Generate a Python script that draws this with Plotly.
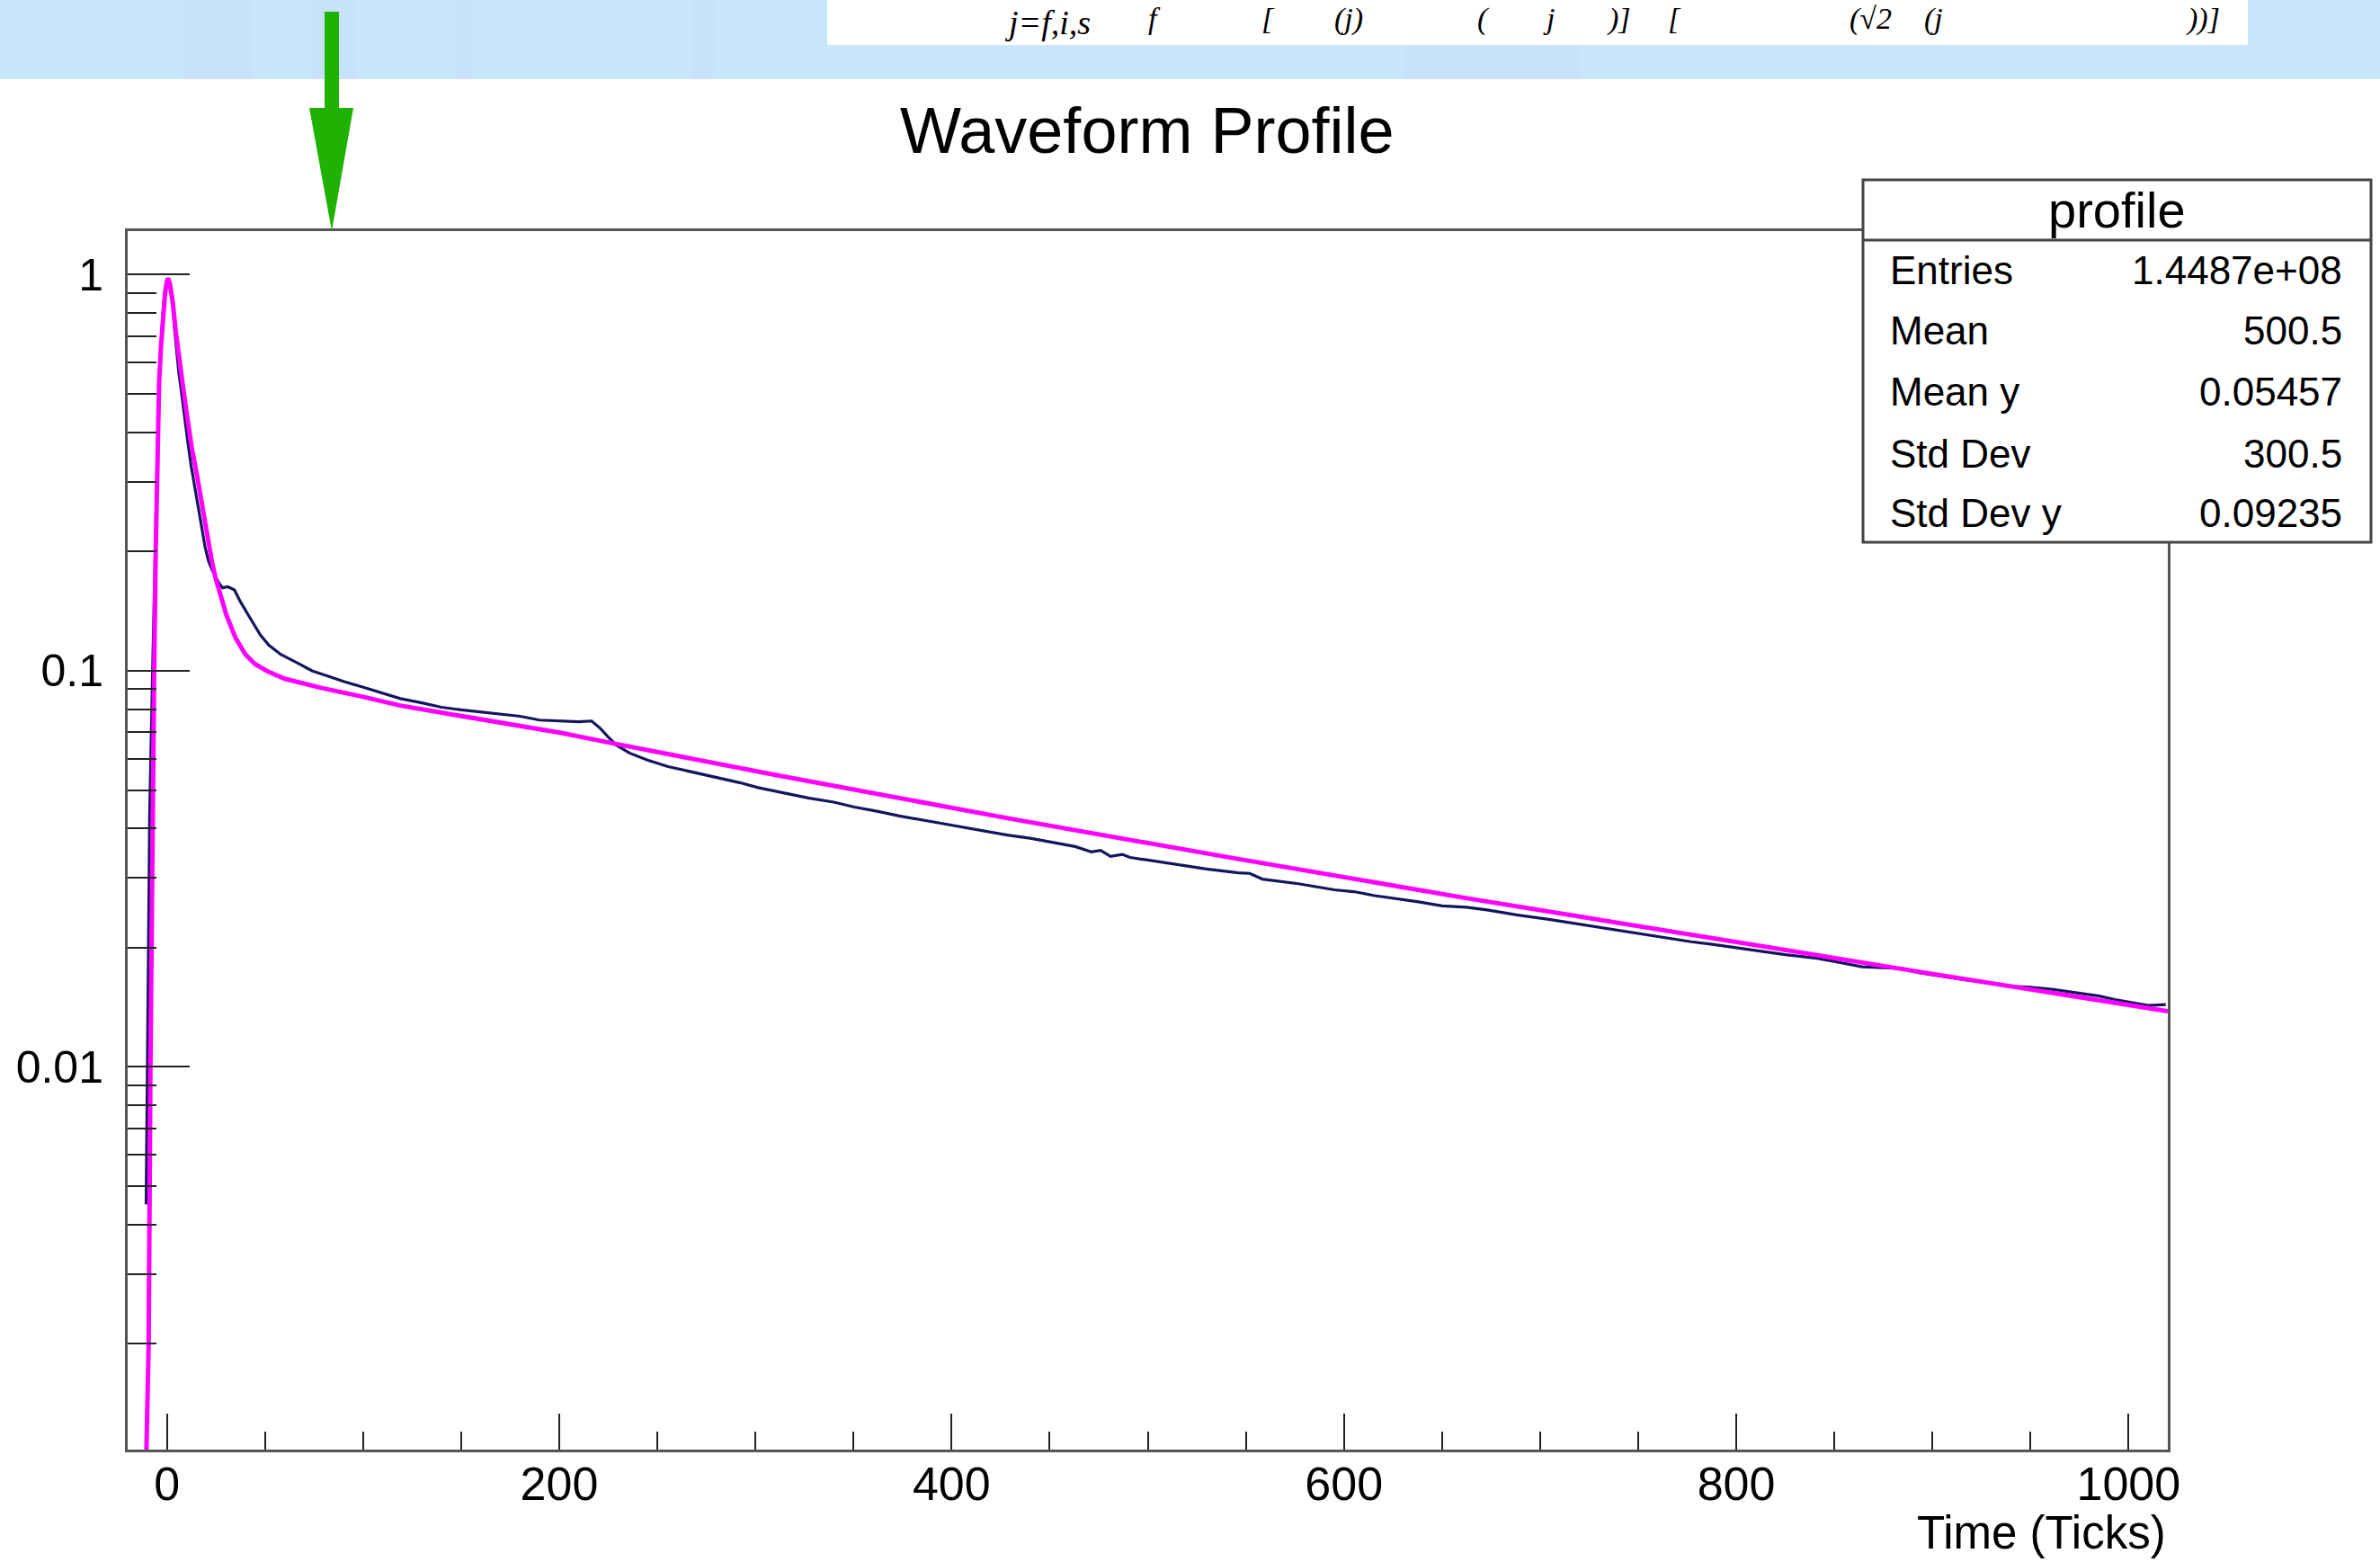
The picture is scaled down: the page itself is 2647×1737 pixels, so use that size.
import plotly.graph_objects as go

W, H = 2647, 1737

# ---------------- data ----------------
profile_x = [-10.6, -9.6, -8.8, -7.3, -5.5, -4.0, -2.0, -1.0, 0.0, 1.0, 2.0, 3.0, 4.0, 5.0, 6.0,
             6.8, 7.9, 9.3, 10.5, 12.3, 14.0, 15.0, 16.4, 18.0, 19.5, 21.1, 23.0, 25.2, 27.0,
             28.4, 31.0, 34.4, 37.6, 42, 47.7, 52, 58, 66, 74, 82.6, 90, 99, 110, 119, 130,
             140, 150, 160, 170.6, 180, 190, 201, 210, 216.5, 221, 225, 229, 235.8, 245,
             255.5, 268, 281.7, 292, 301.4, 315, 327.5, 340, 350.5, 362, 373.4, 390, 404,
             416, 428.4, 440, 454.4, 463, 471.2, 476, 481, 487, 491, 503, 515.6, 530, 546.2,
             552, 558.4, 576.8, 595.1, 605, 615, 627, 638, 650, 662.4, 673, 688, 703.7, 718,
             734.3, 750, 764.8, 777, 787.8, 800, 810.7, 825, 841.3, 853, 864.2, 875, 885.6,
             893, 905, 916, 928, 939, 950, 962, 973, 985, 993, 1000.3, 1010, 1019]
profile_y = [0.0045, 0.0158, 0.0437, 0.100, 0.25, 0.55, 0.80, 0.92, 0.97, 0.97, 0.90, 0.83, 0.72,
             0.63, 0.57, 0.533, 0.478, 0.427, 0.383, 0.330, 0.295, 0.275, 0.250, 0.225, 0.205,
             0.190, 0.180, 0.171, 0.165, 0.162, 0.163, 0.160, 0.149, 0.137, 0.123, 0.116,
             0.110, 0.105, 0.100, 0.0968, 0.0940, 0.0912, 0.0880, 0.0851, 0.0830, 0.0809,
             0.0797, 0.0787, 0.0778, 0.0768, 0.0751, 0.0746, 0.0744, 0.0747, 0.0715, 0.0680,
             0.0650, 0.0620, 0.0595, 0.0573, 0.0555, 0.0535, 0.0522, 0.0507, 0.0492, 0.0477,
             0.0466, 0.0453, 0.0442, 0.0430, 0.0416, 0.0404, 0.0394, 0.0385, 0.0378, 0.0367,
             0.0360, 0.0349, 0.0352, 0.0340, 0.0344, 0.0338, 0.0331, 0.0324, 0.0316, 0.0309,
             0.0308, 0.0298, 0.0290, 0.0280, 0.0277, 0.0271, 0.0266, 0.0261, 0.0255, 0.0253,
             0.0249, 0.0242, 0.0236, 0.0230, 0.0224, 0.0218, 0.0212, 0.0207, 0.0204, 0.0200,
             0.0197, 0.0192, 0.0188, 0.0183, 0.0179, 0.0178, 0.0177, 0.0173, 0.0169, 0.0166,
             0.0163, 0.0160, 0.0159, 0.01568, 0.0154, 0.0151, 0.0148, 0.0146, 0.0143, 0.01437]

fit_x = [-11.0, -10.4, -9.3, -8.4, -7.5, -6.5, -5.7, -5.0, -4.0, -3.0, -2.0, -1.0, 0.0, 0.6,
         1.5, 3.0, 4.5, 6.0, 8.0, 10.0, 12.5, 15.4, 18.0, 20.7, 23.0, 25.0, 27.0, 30.4, 35.0,
         40.0, 45.0, 50.8, 60.0, 70.0, 78.5, 100.0, 119.0, 140.0, 160.0, 201.0, 228.0, 312.0,
         428.0, 540.0, 662.0, 780.0, 896.0, 1020.0]
fit_y = [0.0008, 0.00108, 0.002, 0.010, 0.040, 0.100, 0.200, 0.300, 0.530, 0.660, 0.780,
         0.890, 0.960, 0.980, 0.950, 0.850, 0.720, 0.620, 0.530, 0.450, 0.370, 0.310, 0.260,
         0.215, 0.188, 0.170, 0.158, 0.138, 0.121, 0.110, 0.104, 0.100, 0.0955, 0.0925,
         0.0906, 0.0860, 0.0817, 0.0784, 0.0753, 0.0697, 0.0655, 0.0544, 0.0425, 0.0339,
         0.0267, 0.0214, 0.0173, 0.01383]

x_tick_vals = [0, 200, 400, 600, 800, 1000]
x_tick_text = ["0", "200", "400", "600", "800", "1000"]
x_minor_vals = [50, 100, 150, 250, 300, 350, 450, 500, 550, 650, 700, 750, 850, 900, 950]
y_tick_vals = [0.01, 0.1, 1]
y_tick_text = ["0.01", "0.1", "1"]
y_minor_vals = [0.002, 0.003, 0.004, 0.005, 0.006, 0.007, 0.008, 0.009,
                0.02, 0.03, 0.04, 0.05, 0.06, 0.07, 0.08, 0.09,
                0.2, 0.3, 0.4, 0.5, 0.6, 0.7, 0.8, 0.9]

stats_title = "profile"
stats_labels = ["Entries", "Mean", "Mean y", "Std Dev", "Std Dev y"]
stats_values = ["1.4487e+08", "500.5", "0.05457", "300.5", "0.09235"]

chart_title = "Waveform Profile"
x_title = "Time (Ticks)"

# visible fragments of the (cropped) formula in the banner
formula_sub = "j=f,i,s"
formula_fragments = ["f", "[", "(j)", "(", "j", ")]", "[", "(√2", "(j", "))]"]
formula_frag_px = [1284, 1410, 1500, 1650, 1722, 1800, 1862, 2080, 2150, 2450]


# ---------------- helpers: page pixels -> paper fraction (margins are 0) ----------------
def px(x):
    return x / W


def py(y):
    return 1 - y / H


FONT = "Liberation Sans, Arial, Helvetica, sans-serif"
SERIF = "Liberation Serif, Times New Roman, serif"

fig = go.Figure()
fig.add_trace(go.Scatter(x=profile_x, y=profile_y, mode="lines",
                         line=dict(color="#15155e", width=3.2), hoverinfo="skip"))
fig.add_trace(go.Scatter(x=fit_x, y=fit_y, mode="lines",
                         line=dict(color="#ff00ff", width=5), hoverinfo="skip"))

fig.update_layout(
    width=W, height=H, autosize=False,
    margin=dict(l=0, r=0, t=0, b=0, pad=0),
    paper_bgcolor="white", plot_bgcolor="white", showlegend=False,
    font=dict(family=FONT, color="black"),
)

fig.update_xaxes(
    domain=[px(142), px(2411)], range=[-20, 1020], automargin=False,
    tickmode="array", tickvals=x_tick_vals, ticktext=x_tick_text,
    ticks="inside", ticklen=40, tickwidth=2, tickcolor="#222",
    tickfont=dict(size=52, family=FONT, color="black"), ticklabelstandoff=-9,
    showline=True, linewidth=3, linecolor="#555", mirror=True,
    showgrid=False, zeroline=False,
    minor=dict(tickmode="array", tickvals=x_minor_vals, ticks="inside", ticklen=20,
               tickwidth=2, tickcolor="#222", showgrid=False),
)
fig.update_yaxes(
    type="log", domain=[py(1612), py(257)], range=[-2.966, 0.110], automargin=False,
    tickmode="array", tickvals=y_tick_vals, ticktext=y_tick_text,
    ticks="inside", ticklen=69, tickwidth=2, tickcolor="#222",
    tickfont=dict(size=50, family=FONT, color="black"), ticklabelstandoff=14,
    showline=True, linewidth=3, linecolor="#555", mirror=True,
    showgrid=False, zeroline=False,
    minor=dict(tickmode="array", tickvals=y_minor_vals, ticks="inside", ticklen=32,
               tickwidth=2, tickcolor="#222", showgrid=False),
)

shapes = []
# top banner
shapes.append(dict(type="rect", xref="paper", yref="paper", x0=0, x1=1, y0=py(88), y1=1,
                   fillcolor="#c8e6fc", line=dict(width=0), layer="below"))
for a, b in [(203, 279), (346, 397), (507, 524), (769, 794), (1563, 1757)]:
    shapes.append(dict(type="rect", xref="paper", yref="paper", x0=px(a), x1=px(b),
                       y0=py(88), y1=1, fillcolor="#c8e2fc", line=dict(width=0), layer="below"))
# white formula box in banner
shapes.append(dict(type="rect", xref="paper", yref="paper", x0=px(920), x1=px(2500),
                   y0=py(50), y1=1, fillcolor="white", line=dict(width=0), layer="below"))
# green arrow
arrow = [(361, 13), (377, 13), (377, 120), (393, 120), (369, 257), (344, 120), (361, 120)]
path = "M " + " L ".join(f"{px(a):.5f},{py(b):.5f}" for a, b in arrow) + " Z"
shapes.append(dict(type="path", xref="paper", yref="paper", path=path,
                   fillcolor="#1fb200", line=dict(width=0), layer="above"))
# stats box
shapes.append(dict(type="rect", xref="paper", yref="paper", x0=px(2072), x1=px(2637),
                   y0=py(603), y1=py(200), fillcolor="white",
                   line=dict(color="#444", width=3), layer="above"))
shapes.append(dict(type="line", xref="paper", yref="paper", x0=px(2072), x1=px(2637),
                   y0=py(267), y1=py(267), line=dict(color="#444", width=3), layer="above"))
fig.update_layout(shapes=shapes)

ann = []
ann.append(dict(text=chart_title, x=px(1275), y=py(145), xref="paper", yref="paper",
                xanchor="center", yanchor="middle", showarrow=False,
                font=dict(size=72, family=FONT, color="black")))
ann.append(dict(text=x_title, x=px(2411), y=py(1704), xref="paper", yref="paper",
                xanchor="right", yanchor="middle", showarrow=False,
                font=dict(size=51, family=FONT, color="black")))
ann.append(dict(text=stats_title, x=px(2354), y=py(233), xref="paper", yref="paper",
                xanchor="center", yanchor="middle", showarrow=False,
                font=dict(size=56, family=FONT, color="black")))
row_y = [300, 367, 435, 505, 570]
for lab, val, yy in zip(stats_labels, stats_values, row_y):
    ann.append(dict(text=lab, x=px(2100), y=py(yy), xref="paper", yref="paper",
                    xanchor="left", yanchor="middle", showarrow=False,
                    font=dict(size=44, family=FONT, color="black")))
    ann.append(dict(text=val, x=px(2607), y=py(yy), xref="paper", yref="paper",
                    xanchor="right", yanchor="middle", showarrow=False,
                    font=dict(size=44, family=FONT, color="black")))
# formula fragments in the banner (kept fully inside the page)
ann.append(dict(text=f"<i>{formula_sub}</i>", x=px(1165), y=py(2), xref="paper", yref="paper",
                xanchor="center", yanchor="top", showarrow=False,
                font=dict(size=38, family=SERIF, color="black")))
for frag, fx in zip(formula_fragments, formula_frag_px):
    ann.append(dict(text=f"<i>{frag}</i>", x=px(fx), y=py(0), xref="paper", yref="paper",
                    xanchor="center", yanchor="top", showarrow=False,
                    font=dict(size=34, family=SERIF, color="black")))
fig.update_layout(annotations=ann)

fig.write_html("out.html")
